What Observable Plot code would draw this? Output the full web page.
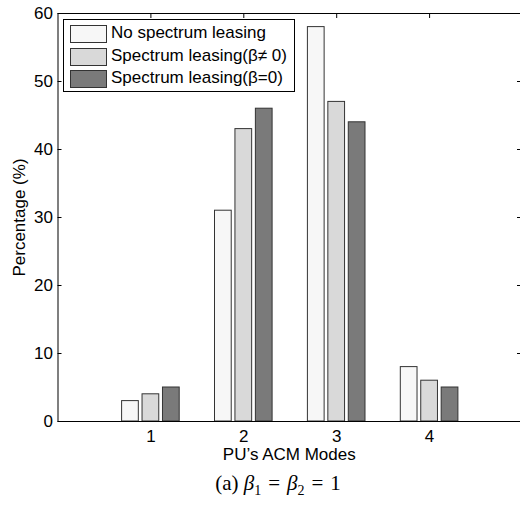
<!DOCTYPE html>
<html>
<head>
<meta charset="utf-8">
<script src="https://cdn.jsdelivr.net/npm/d3@7"></script>
<script src="https://cdn.jsdelivr.net/npm/@observablehq/plot@0.6"></script>
<style>
  html, body { margin: 0; padding: 0; background: white; }
  #wrap { position: relative; width: 520px; height: 508px; font-family: "Liberation Sans", Arial, sans-serif; }
  #legend { position: absolute; left: 63px; top: 19px; width: 230px; height: 71px; border: 1px solid #000; background: #fff; box-sizing: content-box; }
  .row { position: absolute; left: 6px; height: 18px; font-size: 17px; line-height: 18px; white-space: nowrap; }
  .sw { position: absolute; left: 0; top: 0; width: 35px; height: 16px; border: 1px solid #333; }
  .lab { position: absolute; left: 41px; top: -1px; }
  #caption { position: absolute; left: 0; width: 556px; top: 471px; text-align: center; font-family: "Liberation Serif", "DejaVu Serif", serif; font-size: 21px; line-height: 24px; }
  #caption sub { font-size: 14px; }
  #caption .eq { margin: 0 7px; }
</style>
</head>
<body>
<div id="wrap">
  <div id="chart"></div>
  <div id="legend"></div>
  <div id="caption">(a) <i>β</i><sub>1</sub><span class="eq">=</span><i>β</i><sub>2</sub><span class="eq">=</span>1</div>
</div>
<script>
const modes = [1, 2, 3, 4];
const seriesNames = ["No spectrum leasing", "Spectrum leasing(β≠ 0)", "Spectrum leasing(β=0)"];
const noLeasing = [3, 31, 58, 8];
const leasingBetaNonZero = [4, 43, 47, 6];
const leasingBetaZero = [5, 46, 44, 5];
const seriesColors = ["#f7f7f7", "#d9d9d9", "#7a7a7a"];
const yTicks = [0, 10, 20, 30, 40, 50, 60];

const seriesValues = [noLeasing, leasingBetaNonZero, leasingBetaZero];
const barWidth = 0.18, barStep = 0.22;
const data = [];
seriesValues.forEach((vals, s) => {
  vals.forEach((v, i) => {
    const c = modes[i] + (s - 1) * barStep;
    data.push({series: seriesNames[s], x1: c - barWidth / 2, x2: c + barWidth / 2, value: v});
  });
});

const chart = Plot.plot({
  width: 520,
  height: 470,
  marginLeft: 57.5,
  marginRight: 0,
  marginTop: 13,
  marginBottom: 49,
  style: {fontFamily: "Liberation Sans, Arial, sans-serif", fontSize: "17px", background: "white", color: "black", overflow: "visible"},
  x: {domain: [0, 5], range: [57.5, 522]},
  y: {domain: [0, 60]},
  color: {domain: seriesNames, range: seriesColors},
  marks: [
    Plot.axisY({anchor: "left", ticks: yTicks, tickSize: -4, tickPadding: 9, label: "Percentage (%)", labelAnchor: "center", labelArrow: "none", labelOffset: 45}),
    Plot.axisY({anchor: "right", ticks: yTicks, tickSize: -4, tickFormat: () => "", label: null}),
    Plot.axisX({anchor: "top", ticks: modes, tickSize: -4, tickFormat: () => "", label: null}),
    Plot.axisX({anchor: "bottom", ticks: modes, tickSize: -4, tickPadding: 12, tickFormat: d3.format("d"), label: "PU’s ACM Modes", labelAnchor: "center", labelArrow: "none", labelOffset: 38}),
    Plot.rectY(data, {x1: "x1", x2: "x2", y: "value", fill: "series", stroke: "#333", strokeWidth: 1}),
    Plot.frame({stroke: "black", strokeWidth: 1})
  ]
});
document.getElementById("chart").appendChild(chart);

const legend = document.getElementById("legend");
const rowTops = [5, 28, 50];
seriesNames.forEach((name, i) => {
  const row = document.createElement("div");
  row.className = "row";
  row.style.top = rowTops[i] + "px";
  row.innerHTML = `<span class="sw" style="background:${seriesColors[i]}"></span><span class="lab"></span>`;
  row.querySelector(".lab").textContent = name;
  legend.appendChild(row);
});
</script>
</body>
</html>
